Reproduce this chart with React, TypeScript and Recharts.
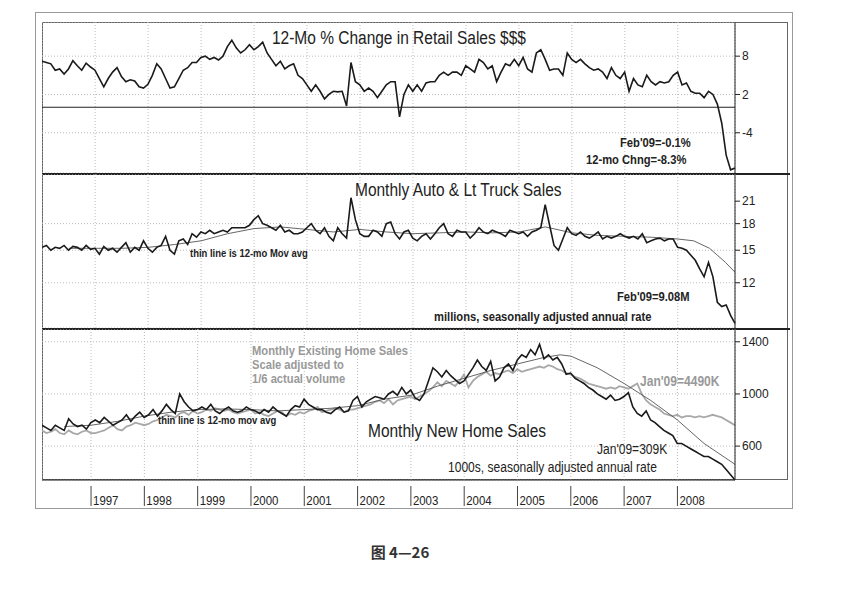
import React from "react";
import { LineChart, Line, XAxis, YAxis, CartesianGrid, ReferenceLine } from "recharts";

const END = 2009.08;
const X0 = 1996.1;
const yearTicks = [1997, 1998, 1999, 2000, 2001, 2002, 2003, 2004, 2005, 2006, 2007, 2008];

const retail = [
  7.2,7.0,6.8,5.8,6.0,5.2,6.0,7.3,6.5,5.8,6.9,6.3,
  5.8,4.5,3.2,4.5,5.5,6.2,4.8,4.0,4.3,4.1,3.2,3.0,
  3.6,5.0,6.8,6.0,4.5,3.0,3.2,4.5,5.8,6.2,7.0,7.0,
  7.8,8.0,7.5,7.8,7.4,8.0,9.5,10.5,9.3,8.5,9.0,9.8,
  9.0,9.5,10.2,8.5,7.5,6.5,7.2,6.0,6.5,6.8,5.0,4.5,
  3.5,2.5,3.5,2.5,1.3,2.0,2.5,2.4,2.5,0.2,7.0,4.0,
  3.5,2.5,3.0,2.5,1.5,2.5,3.5,4.0,4.0,-1.5,2.0,3.5,
  2.5,3.5,2.5,3.8,4.0,4.0,5.0,5.5,5.0,5.5,5.5,5.0,
  6.5,6.0,5.5,7.5,7.0,6.0,6.5,4.0,5.5,6.8,6.5,7.5,
  6.5,7.8,6.0,5.5,8.5,9.0,7.5,5.8,6.0,6.0,5.0,8.5,
  7.5,7.0,7.5,6.8,6.2,5.8,6.0,5.5,4.5,6.2,5.0,4.5,
  5.5,2.5,4.5,3.5,3.2,5.0,4.0,3.5,4.0,3.8,4.0,5.0,
  5.5,3.5,3.8,2.5,2.2,2.2,1.5,2.5,2.0,0.5,-2.5,-7.5,
  -9.8,-9.5,
];

const auto = [
  15.3,15.5,15.0,15.3,15.2,15.5,15.0,15.4,15.3,15.0,15.5,15.1,
  15.2,14.6,15.4,15.0,15.2,14.8,15.3,15.8,14.8,15.3,15.0,16.0,
  15.2,14.8,15.3,15.5,16.5,15.0,14.6,16.0,16.2,15.6,16.8,16.4,
  17.0,16.8,17.2,16.8,17.0,17.2,17.0,17.5,17.5,17.5,17.5,17.8,
  18.5,19.0,18.0,17.8,17.5,17.2,17.8,17.0,17.2,16.8,16.8,17.0,
  17.5,18.0,17.2,16.8,17.5,16.5,16.0,17.5,16.8,16.3,21.5,18.5,
  16.8,16.5,16.5,17.2,17.0,16.5,18.0,18.2,16.8,16.2,17.0,17.2,
  16.3,16.0,16.5,16.8,16.2,16.8,17.5,18.0,16.8,16.5,17.2,17.0,
  17.0,16.3,16.8,17.5,17.0,16.8,17.2,17.0,16.8,16.5,17.2,17.0,
  16.8,17.0,16.5,17.0,17.2,17.5,20.5,17.8,15.5,15.0,16.2,17.5,
  16.8,16.6,17.0,16.5,16.3,16.6,17.0,16.2,16.5,16.3,16.5,16.8,
  16.5,16.3,16.5,16.2,16.8,15.8,16.0,16.2,16.3,16.0,16.2,16.2,
  15.3,15.2,15.0,14.5,14.0,13.2,12.5,13.8,12.5,10.5,10.2,10.3,
  9.6,9.08,
];

const autoMaT = [1996.5,1997,1997.5,1998,1998.5,1999,1999.5,2000,2000.5,2001,2001.5,2002,2002.5,2003,2003.5,2004,2004.5,2005,2005.5,2006,2006.5,2007,2007.5,2008,2008.3,2008.6,2008.9,2009.08];
const autoMaV = [15.2,15.2,15.2,15.3,15.6,16.0,16.8,17.4,17.6,17.3,17.0,17.3,17.0,16.8,16.9,17.0,16.9,17.0,17.6,16.9,16.6,16.5,16.4,16.2,16.0,15.2,13.8,12.9];

const newHome = [
  760,740,720,760,740,720,810,770,750,760,730,780,
  800,780,820,790,760,780,800,840,790,830,860,820,
  840,880,830,870,920,880,850,1000,940,900,870,880,
  900,880,920,870,850,880,900,870,860,870,900,880,
  870,850,880,860,900,870,850,830,880,910,900,960,
  920,900,880,880,860,850,880,900,860,870,950,980,
  900,940,960,980,970,960,1000,1020,990,1050,1000,1030,
  970,950,1000,1100,1200,1170,1130,1180,1140,1110,1080,1100,
  1150,1200,1260,1210,1180,1250,1100,1130,1200,1230,1180,1260,
  1300,1280,1340,1300,1380,1270,1300,1260,1280,1230,1150,1160,
  1120,1100,1080,1050,1030,1000,980,960,990,950,960,980,
  1010,900,850,830,870,800,780,750,720,700,680,620,
  620,600,580,560,540,520,520,500,480,460,420,380,
  340,
];

const existing = [
  720,700,710,730,700,690,720,700,690,710,720,700,
  700,710,720,740,760,730,720,750,760,780,770,760,
  770,790,800,820,840,830,820,850,860,840,870,850,
  860,880,870,890,880,870,880,860,850,860,870,880,
  850,860,840,830,850,870,860,830,850,840,860,850,
  870,880,900,860,870,880,890,880,860,880,880,890,
  900,910,920,940,950,930,960,920,950,960,970,980,
  960,980,1000,1020,1050,1090,1060,1100,1080,1060,1100,1150,
  1050,1100,1130,1150,1170,1140,1160,1150,1170,1180,1160,1190,
  1170,1180,1190,1200,1210,1200,1220,1210,1190,1180,1160,1150,
  1130,1120,1100,1080,1070,1060,1050,1040,1050,1040,1060,1050,
  1040,1060,1080,1000,950,920,900,880,850,840,830,840,
  820,830,830,820,830,820,830,840,830,820,800,780,
  760,
];

const newMaT = [1996.5,1997,1997.5,1998,1998.5,1999,1999.5,2000,2000.5,2001,2001.5,2002,2002.5,2003,2003.5,2004,2004.5,2005,2005.5,2005.8,2006,2006.5,2007,2007.5,2008,2008.5,2009.08];
const newMaV = [750,760,790,830,860,880,885,880,870,880,890,910,960,990,1060,1120,1180,1230,1280,1300,1290,1200,1080,950,800,620,460];

const monthly = (vals: number[]) => vals.map((v, i) => ({ t: END - (vals.length - 1 - i) / 12, v }));
const paired = (ts: number[], vs: number[]) => ts.map((t, i) => ({ t, v: vs[i] }));

const FONT = "'Liberation Sans Narrow', 'Arial Narrow', 'Liberation Sans', Arial, sans-serif";
const W = 748;
const tickStyle = { fontSize: 12, fill: "#222", fontFamily: FONT };

const abs = (l: number, t: number): React.CSSProperties => ({ position: "absolute", left: l, top: t });
const label = (l: number, t: number, size: number, color = "#222", bold = false): React.CSSProperties => ({
  ...abs(l, t), fontFamily: FONT, fontSize: size, color, fontWeight: bold ? "bold" : "normal", whiteSpace: "nowrap", lineHeight: 1,
  transform: "scaleX(0.86)", transformOrigin: "left top",
});

const XTick = (props: any) => {
  const { x, y, payload } = props;
  return (
    <g>
      <line x1={x} y1={y - 2} x2={x} y2={y + 18} stroke="#444" />
      <text x={x + 2} y={y + 17} fontSize={13} fontFamily={FONT} fill="#222" transform={`translate(${x + 2},0) scale(0.88,1) translate(${-(x + 2)},0)`}>{payload.value}</text>
    </g>
  );
};

const grid = <CartesianGrid stroke="#bbb" strokeDasharray="1 2" />;
const hiddenX = <XAxis type="number" dataKey="t" domain={[X0, END]} ticks={yearTicks} hide allowDuplicatedCategory={false} />;

export default function App() {
  return (
    <div style={{ position: "absolute", left: 0, top: 0, width: 848, height: 593, background: "#fff" }}>
      <div style={{ ...abs(35, 12), width: 758, height: 497, border: "1px solid #999", boxSizing: "border-box" }} />
      <div style={{ ...abs(42, 22), width: W - 2, height: 458, border: "1px solid #666", boxSizing: "border-box" }} />

      <div style={abs(42, 22)}>
        <LineChart width={W} height={151} margin={{ top: 0, right: 0, bottom: 0, left: 0 }}>
          {grid}
          {hiddenX}
          <YAxis orientation="right" width={55} domain={[-10.3, 13.35]} ticks={[8, 2, -4]} type="number" tick={tickStyle} tickLine={{ stroke: "#222" }} axisLine={{ stroke: "#222" }} tickSize={5} />
          <ReferenceLine y={0} stroke="#222" strokeWidth={1.2} />
          <Line data={monthly(retail)} dataKey="v" stroke="#1a1a1a" strokeWidth={1.6} dot={false} isAnimationActive={false} />
        </LineChart>
      </div>
      <div style={{ ...abs(42, 173), width: W, height: 2, background: "#222" }} />

      <div style={abs(42, 174)}>
        <LineChart width={W} height={154} margin={{ top: 0, right: 0, bottom: 0, left: 0 }}>
          {grid}
          {hiddenX}
          <YAxis orientation="right" width={55} scale="log" domain={[8.8, 25.3]} ticks={[21, 18, 15, 12]} type="number" allowDataOverflow tick={tickStyle} tickLine={{ stroke: "#222" }} axisLine={{ stroke: "#222" }} tickSize={5} />
          <Line data={paired(autoMaT, autoMaV)} dataKey="v" stroke="#555" strokeWidth={0.9} dot={false} isAnimationActive={false} />
          <Line data={monthly(auto)} dataKey="v" stroke="#1a1a1a" strokeWidth={1.6} dot={false} isAnimationActive={false} />
        </LineChart>
      </div>
      <div style={{ ...abs(42, 328), width: W, height: 2, background: "#222" }} />

      <div style={abs(42, 329)}>
        <LineChart width={W} height={179} margin={{ top: 0, right: 0, bottom: 0, left: 0 }}>
          {grid}
          <XAxis type="number" dataKey="t" domain={[X0, END]} ticks={yearTicks} height={28} tick={<XTick />} tickLine={false} axisLine={{ stroke: "#222" }} allowDuplicatedCategory={false} />
          <YAxis orientation="right" width={55} domain={[380, 1498]} ticks={[1400, 1000, 600]} type="number" tick={tickStyle} tickLine={{ stroke: "#222" }} axisLine={{ stroke: "#222" }} tickSize={5} />
          <Line data={monthly(existing)} dataKey="v" stroke="#a8a8a8" strokeWidth={1.8} dot={false} isAnimationActive={false} />
          <Line data={paired(newMaT, newMaV)} dataKey="v" stroke="#555" strokeWidth={0.9} dot={false} isAnimationActive={false} />
          <Line data={monthly(newHome)} dataKey="v" stroke="#1a1a1a" strokeWidth={1.6} dot={false} isAnimationActive={false} />
        </LineChart>
      </div>

      <div style={label(272, 29, 18)}>12-Mo % Change in Retail Sales $$$</div>
      <div style={label(620, 136, 13, "#222", true)}>Feb'09=-0.1%</div>
      <div style={label(586, 153, 13, "#222", true)}>12-mo Chng=-8.3%</div>

      <div style={label(355, 181, 18)}>Monthly Auto &amp; Lt Truck Sales</div>
      <div style={label(190, 248, 11, "#222", true)}>thin line is 12-mo Mov avg</div>
      <div style={label(617, 290, 13, "#222", true)}>Feb'09=9.08M</div>
      <div style={label(434, 310, 13, "#222", true)}>millions, seasonally adjusted annual rate</div>

      <div style={label(252, 344, 13, "#999", true)}>Monthly Existing Home Sales</div>
      <div style={label(252, 358, 13, "#999", true)}>Scale adjusted to</div>
      <div style={label(252, 372, 13, "#999", true)}>1/6 actual volume</div>
      <div style={label(640, 374, 14, "#999", true)}>Jan'09=4490K</div>
      <div style={label(158, 415, 11, "#222", true)}>thin line is 12-mo mov avg</div>
      <div style={label(368, 422, 18)}>Monthly New Home Sales</div>
      <div style={label(597, 442, 14)}>Jan'09=309K</div>
      <div style={label(448, 460, 14)}>1000s, seasonally adjusted annual rate</div>

      <div style={{ position: "absolute", left: 0, width: 800, top: 541, textAlign: "center", fontFamily: "'Noto Sans CJK SC', serif", fontSize: 15, fontWeight: "bold", color: "#333" }}>图 4—26</div>
    </div>
  );
}
